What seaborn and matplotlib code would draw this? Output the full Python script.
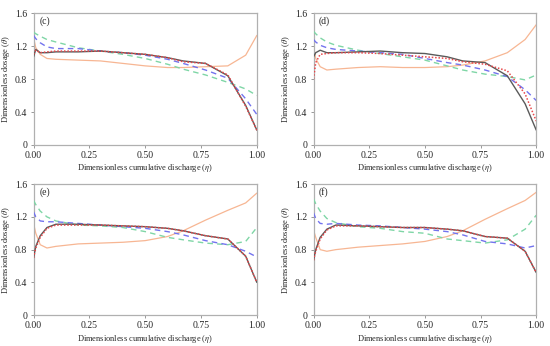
import numpy as np
import pandas as pd
import matplotlib
matplotlib.use("Agg")
import matplotlib.pyplot as plt
import seaborn as sns

# Common eta grid
eta = [0, 0.01, 0.03, 0.06, 0.1, 0.2, 0.3, 0.4, 0.5, 0.6, 0.67, 0.77, 0.87, 0.95, 1.0]

# Panel (c)
c_black = [1.07, 1.16, 1.12, 1.12, 1.13, 1.13, 1.14, 1.12, 1.10, 1.06, 1.02, 0.99, 0.84, 0.48, 0.18]
c_red = [1.10, 1.15, 1.12, 1.13, 1.14, 1.14, 1.14, 1.12, 1.10, 1.06, 1.01, 0.99, 0.85, 0.47, 0.18]
c_blue = [1.33, 1.29, 1.24, 1.19, 1.17, 1.17, 1.14, 1.12, 1.09, 1.04, 0.99, 0.91, 0.81, 0.56, 0.37]
c_green = [1.37, 1.35, 1.32, 1.28, 1.25, 1.18, 1.14, 1.10, 1.05, 0.98, 0.92, 0.85, 0.76, 0.68, 0.60]
c_orange = [1.30, 1.18, 1.10, 1.05, 1.04, 1.03, 1.02, 0.99, 0.96, 0.94, 0.94, 0.95, 0.96, 1.09, 1.33]

# Panel (d)
d_black = [1.07, 1.12, 1.15, 1.12, 1.12, 1.13, 1.14, 1.12, 1.11, 1.07, 1.02, 1.00, 0.84, 0.50, 0.18]
d_red = [0.80, 1.00, 1.10, 1.11, 1.12, 1.12, 1.11, 1.09, 1.07, 1.05, 1.01, 0.98, 0.90, 0.62, 0.29]
d_blue = [1.28, 1.25, 1.21, 1.18, 1.16, 1.14, 1.12, 1.10, 1.05, 1.00, 0.97, 0.91, 0.83, 0.67, 0.54]
d_green = [1.38, 1.35, 1.30, 1.25, 1.21, 1.15, 1.11, 1.07, 1.03, 0.96, 0.91, 0.86, 0.83, 0.79, 0.85]
d_orange = [1.21, 1.05, 0.95, 0.91, 0.92, 0.94, 0.95, 0.94, 0.94, 0.95, 0.97, 1.02, 1.12, 1.28, 1.46]

# Panel (e)
e_black = [0.70, 0.84, 0.97, 1.07, 1.11, 1.11, 1.10, 1.09, 1.08, 1.06, 1.03, 0.97, 0.93, 0.72, 0.40]
e_red = [0.70, 0.82, 0.95, 1.06, 1.10, 1.10, 1.10, 1.09, 1.08, 1.06, 1.03, 0.97, 0.93, 0.72, 0.40]
e_blue = [1.26, 1.20, 1.15, 1.14, 1.14, 1.12, 1.10, 1.08, 1.06, 1.02, 0.98, 0.91, 0.86, 0.78, 0.71]
e_green = [1.40, 1.35, 1.27, 1.20, 1.15, 1.10, 1.09, 1.07, 1.02, 0.95, 0.92, 0.88, 0.86, 0.90, 1.07]
e_orange = [1.12, 1.00, 0.86, 0.82, 0.84, 0.87, 0.88, 0.89, 0.91, 0.96, 1.03, 1.16, 1.28, 1.37, 1.49]

# Panel (f)
f_black = [0.67, 0.80, 0.95, 1.05, 1.10, 1.09, 1.08, 1.07, 1.07, 1.05, 1.03, 0.96, 0.94, 0.78, 0.52]
f_red = [0.67, 0.78, 0.93, 1.04, 1.09, 1.09, 1.08, 1.07, 1.07, 1.05, 1.03, 0.96, 0.94, 0.78, 0.52]
f_blue = [1.25, 1.18, 1.12, 1.11, 1.12, 1.10, 1.09, 1.07, 1.05, 1.02, 0.98, 0.90, 0.87, 0.82, 0.85]
f_green = [1.42, 1.36, 1.27, 1.18, 1.13, 1.08, 1.06, 1.02, 1.00, 0.93, 0.91, 0.88, 0.92, 1.05, 1.22]
f_orange = [1.04, 0.95, 0.80, 0.78, 0.80, 0.83, 0.85, 0.87, 0.90, 0.96, 1.03, 1.17, 1.30, 1.40, 1.50]

panel_labels = ["(c)", "(d)", "(e)", "(f)"]
x_ticks = [0, 0.25, 0.5, 0.75, 1.0]
x_ticklabels = ["0.00", "0.25", "0.50", "0.75", "1.00"]
y_ticks = [0, 0.4, 0.8, 1.2, 1.6]
y_ticklabels = ["0", "0.4", "0.8", "1.2", "1.6"]

sns.set_style("white")
plt.rcParams["font.family"] = ["Liberation Serif", "DejaVu Serif"]
plt.rcParams["mathtext.fontset"] = "stix"

panels = [
    (c_black, c_red, c_blue, c_green, c_orange),
    (d_black, d_red, d_blue, d_green, d_orange),
    (e_black, e_red, e_blue, e_green, e_orange),
    (f_black, f_red, f_blue, f_green, f_orange),
]

# series styling: (color, dashes, linewidth, zorder)
styles = [
    ("#f7b693", None, 0.9, 2),        # orange
    ("#7fd6a6", (4, 3), 1.0, 3),      # green dashed
    ("#7373ee", (4, 3), 1.0, 4),      # blue dashed
    ("#5a5a5a", None, 1.0, 5),        # black solid
    ("#e8474a", (1, 1.2), 1.1, 6),    # red dotted
]

positions = [
    [0.061, 0.581, 0.406, 0.381],
    [0.570, 0.581, 0.405, 0.381],
    [0.061, 0.089, 0.406, 0.379],
    [0.570, 0.089, 0.405, 0.379],
]

fig = plt.figure(figsize=(5.5, 3.46), dpi=100)

for (black, red, blue, green, orange), pos, lab in zip(panels, positions, panel_labels):
    ax = fig.add_axes(pos)
    series = [orange, green, blue, black, red]
    for vals, (col, dash, lw, z) in zip(series, styles):
        df = pd.DataFrame({"eta": eta, "theta": vals})
        sns.lineplot(data=df, x="eta", y="theta", ax=ax, color=col,
                     linewidth=lw, estimator=None, sort=False, zorder=z)
        if dash is not None:
            ax.lines[-1].set_dashes(dash)
    ax.set_xlim(0, 1)
    ax.set_ylim(0, 1.6)
    ax.set_xticks(x_ticks)
    ax.set_xticklabels(x_ticklabels)
    ax.set_yticks(y_ticks)
    ax.set_yticklabels(y_ticklabels)
    ax.tick_params(axis="both", direction="out", length=2.5, width=0.6,
                   color="#888888", labelsize=7, pad=2, bottom=True, left=True)
    for sp in ax.spines.values():
        sp.set_color("#b0b0b0")
        sp.set_linewidth(0.9)
    ax.set_xlabel(r"Dimensionless cumulative discharge ($\eta$)", fontsize=6, labelpad=1.5)
    ax.set_ylabel(r"Dimensionless dosage ($\theta$)", fontsize=6, labelpad=2)
    ax.text(0.025, 1.5, lab, fontsize=7, va="center", ha="left")

fig.savefig("out.png", dpi=100)
